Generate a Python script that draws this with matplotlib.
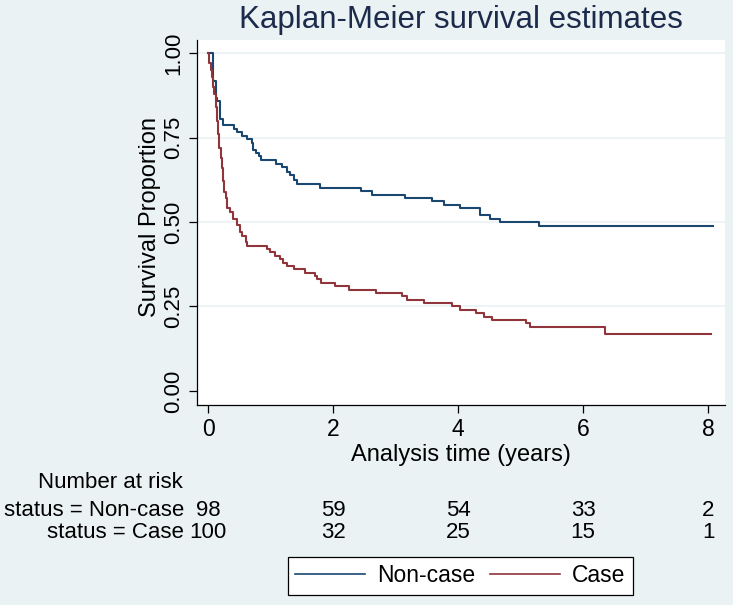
import matplotlib
matplotlib.use("Agg")
import matplotlib.pyplot as plt
from matplotlib.transforms import blended_transform_factory
from matplotlib.lines import Line2D

plt.rcParams['font.family'] = ['Liberation Sans', 'DejaVu Sans']

# ---- data ----
noncase_t = [0, 0.085, 0.12, 0.15, 0.19, 0.245, 0.42, 0.47, 0.54, 0.63, 0.70, 0.725, 0.76, 0.81, 0.85,
             1.09, 1.18, 1.27, 1.31, 1.37, 1.42, 1.79, 2.44, 2.62, 3.15, 3.59, 3.77, 4.03, 4.35,
             4.51, 4.67, 5.29, 8.08]
noncase_s = [1.0, 0.918, 0.867, 0.857, 0.806, 0.786, 0.776, 0.765, 0.755, 0.745, 0.735, 0.714, 0.704,
             0.694, 0.684, 0.673, 0.663, 0.648, 0.638, 0.625, 0.612, 0.602, 0.591, 0.581, 0.570,
             0.561, 0.551, 0.541, 0.521, 0.510, 0.499, 0.488, 0.488]

case_t = [0, 0.02, 0.04, 0.06, 0.08, 0.10, 0.12, 0.14, 0.16, 0.18, 0.20, 0.22, 0.24, 0.26, 0.28, 0.30,
          0.35, 0.40, 0.46, 0.51, 0.55, 0.60, 0.62, 0.94, 0.99, 1.07, 1.15, 1.20, 1.26, 1.37, 1.55,
          1.71, 1.74, 1.81, 2.03, 2.25, 2.69, 3.11, 3.19, 3.46, 3.90, 4.03, 4.29, 4.41, 4.54, 5.09,
          5.15, 6.35, 8.05]
case_s = [1.00, 0.97, 0.95, 0.93, 0.90, 0.88, 0.84, 0.80, 0.76, 0.72, 0.69, 0.66, 0.62, 0.59, 0.57, 0.54,
          0.53, 0.51, 0.49, 0.47, 0.46, 0.44, 0.43, 0.42, 0.41, 0.40, 0.39, 0.38, 0.37, 0.36, 0.35,
          0.34, 0.33, 0.32, 0.31, 0.30, 0.29, 0.28, 0.27, 0.26, 0.25, 0.24, 0.23, 0.22, 0.21, 0.20,
          0.19, 0.17, 0.17]

risk_times = [0, 2, 4, 6, 8]
risk_noncase = [98, 59, 54, 33, 2]
risk_case = [100, 32, 25, 15, 1]
group_labels = ["Non-case", "Case"]
yticks = [0.0, 0.25, 0.5, 0.75, 1.0]
xticks = [0, 2, 4, 6, 8]

# ---- style ----
W, H = 733, 605
BG = '#eaf2f3'
BLUE = '#1a476f'
RED = '#90353b'

fig = plt.figure(figsize=(W / 100, H / 100), dpi=100, facecolor=BG)
ax = fig.add_axes([197 / W, 1 - 405 / H, (725 - 197) / W, (405 - 40) / H])
ax.set_facecolor('white')

ax.step(noncase_t, noncase_s, where='post', color=BLUE, lw=1.5)
ax.step(case_t, case_s, where='post', color=RED, lw=1.5)

ax.set_xlim(-0.176, 8.27)
ax.set_ylim(-0.0415, 1.0386)

for s in ['top', 'right']:
    ax.spines[s].set_visible(False)
for s in ['left', 'bottom']:
    ax.spines[s].set_color('black')
    ax.spines[s].set_linewidth(0.9)

ax.set_yticks(yticks)
ax.set_yticklabels([f"{v:.2f}" for v in yticks], rotation=90, va='center', fontsize=16)
ax.set_xticks(xticks)
ax.set_xticklabels([str(v) for v in xticks], fontsize=16.5)
ax.tick_params(direction='out', length=5.5, width=0.9, pad=4, colors='black')
for v in yticks[1:]:
    ax.axhline(v, color=BG, lw=1.2, zorder=0)

fig.text(461 / W, 1 - 20 / H, "Kaplan-Meier survival estimates", ha='center', va='center',
         fontsize=22.5, color='#1c2b4b')
fig.text(150 / W, 1 - 217 / H, "Survival Proportion", rotation=90, ha='center', va='center',
         fontsize=17)
fig.text(461 / W, 1 - 455 / H, "Analysis time (years)", ha='center', va='center', fontsize=17)

# number at risk
fig.text(183 / W, 1 - 483 / H, "Number at risk", ha='right', va='center', fontsize=16)
tr = blended_transform_factory(ax.transData, fig.transFigure)
rows = [("status = " + group_labels[0], risk_noncase, 510),
        ("status = " + group_labels[1], risk_case, 533)]
for lab, vals, yp in rows:
    fig.text(184 / W, 1 - yp / H, lab, ha='right', va='center', fontsize=16)
    for t, v in zip(risk_times, vals):
        ax.text(t, 1 - yp / H, str(v), transform=tr, ha='center', va='center', fontsize=16)

handles = [Line2D([], [], color=BLUE, lw=1.2), Line2D([], [], color=RED, lw=1.2)]
leg = fig.legend(handles, group_labels, loc='center', bbox_to_anchor=(460.5 / W, 1 - 576 / H),
                 ncol=2, fontsize=16.5, frameon=True, fancybox=False, edgecolor='black',
                 framealpha=1, handlelength=3.05, handletextpad=0.52, columnspacing=0.65,
                 borderpad=0.34)
leg.get_frame().set_linewidth(0.9)

fig.savefig("out.png", dpi=100, facecolor=BG)
